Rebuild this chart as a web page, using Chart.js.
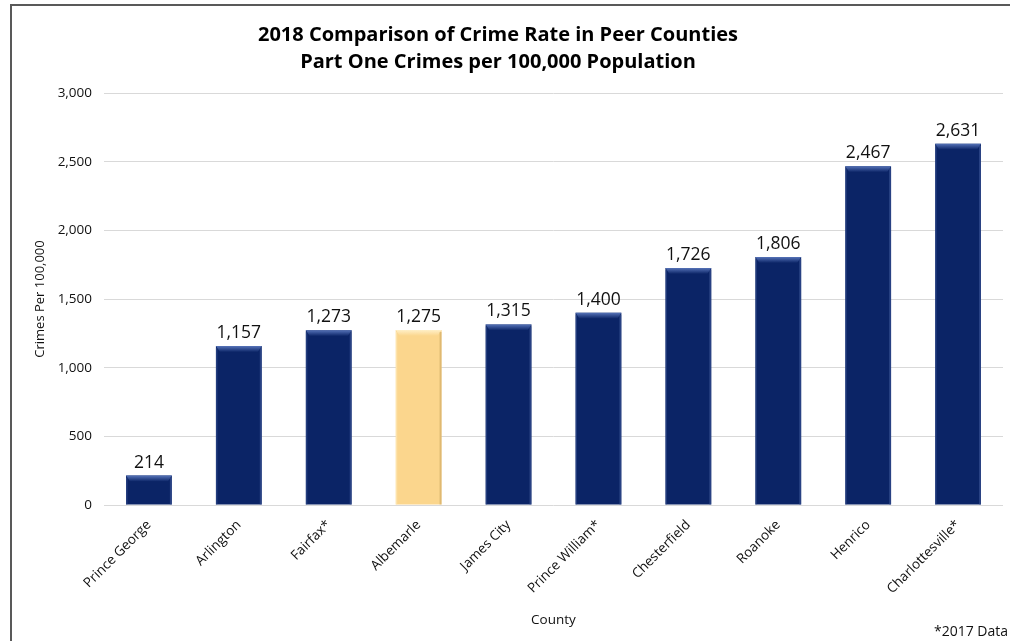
<!DOCTYPE html>
<html>
<head>
<meta charset="utf-8">
<script src="https://cdn.jsdelivr.net/npm/chart.js@4.4.1/dist/chart.umd.min.js"></script>
<style>
  html, body { margin: 0; padding: 0; background: #fff; }
  #wrap { position: relative; width: 1010px; height: 641px; }
</style>
</head>
<body>
<div id="wrap"><canvas id="myChart" width="1010" height="641"></canvas></div>
<script>
const counties = ["Prince George", "Arlington", "Fairfax*", "Albemarle", "James City",
  "Prince William*", "Chesterfield", "Roanoke", "Henrico", "Charlottesville*"];
const crimeRates = [214, 1157, 1273, 1275, 1315, 1400, 1726, 1806, 2467, 2631];
const highlighted = "Albemarle";
const titleLines = ["2018 Comparison of Crime Rate in Peer Counties", "Part One Crimes per 100,000 Population"];
const footnote = "*2017 Data";

const navy = "#0b2466";
const gold = "#fbd68d";

const fmt = (v) => v.toLocaleString("en-US");

// frame, title, value labels, bevel, footnote
const extras = {
  id: "extras",
  beforeDraw(chart) {
    const ctx = chart.ctx;
    ctx.save();
    ctx.strokeStyle = "#595959";
    ctx.lineWidth = 2;
    ctx.beginPath();
    ctx.moveTo(11, 641);
    ctx.lineTo(11, 5);
    ctx.lineTo(1010, 5);
    ctx.stroke();
    ctx.restore();
  },
  afterDatasetsDraw(chart) {
    const ctx = chart.ctx;
    const meta = chart.getDatasetMeta(0);
    ctx.save();
    meta.data.forEach((bar, i) => {
      const p = bar.getProps(["x", "y", "base", "width"], true);
      const l = p.x - p.width / 2, r = p.x + p.width / 2, t = p.y;
      const isHi = counties[i] === highlighted;
      // top bevel
      const g = ctx.createLinearGradient(0, t, 0, t + 6);
      g.addColorStop(0, isHi ? "#fff0c8" : "#5673b8");
      g.addColorStop(1, isHi ? gold : navy);
      ctx.fillStyle = g;
      ctx.beginPath();
      ctx.moveTo(l, t);
      ctx.lineTo(r, t);
      ctx.lineTo(r - 4, t + 6);
      ctx.lineTo(l + 4, t + 6);
      ctx.closePath();
      ctx.fill();
      // side edges
      ctx.fillStyle = isHi ? "rgba(190,150,80,0.45)" : "rgba(60,85,150,0.6)";
      ctx.fillRect(r - 2, t + 2, 2, p.base - t - 2);
      ctx.fillStyle = isHi ? "rgba(255,240,200,0.5)" : "rgba(60,85,150,0.5)";
      ctx.fillRect(l, t + 2, 1.5, p.base - t - 2);

      // value label
      ctx.fillStyle = "#111";
      ctx.font = "17.5px 'Open Sans'";
      ctx.textAlign = "center";
      ctx.textBaseline = "alphabetic";
      ctx.fillText(fmt(crimeRates[i]), p.x, t - 8);
    });

    ctx.fillStyle = "#000";
    ctx.font = "bold 20px 'Open Sans'";
    ctx.textAlign = "center";
    ctx.textBaseline = "middle";
    ctx.fillText(titleLines[0], 498, 35);
    ctx.fillText(titleLines[1], 498, 62);

    ctx.font = "14px 'Open Sans'";
    ctx.textAlign = "right";
    ctx.fillStyle = "#111";
    ctx.fillText(footnote, 1008, 632);
    ctx.restore();
  }
};

new Chart("myChart", {
  type: "bar",
  data: {
    labels: counties,
    datasets: [{
      data: crimeRates,
      backgroundColor: counties.map((c) => (c === highlighted ? gold : navy)),
      borderWidth: 0,
      categoryPercentage: 1,
      barPercentage: 0.51,
    }],
  },
  options: {
    responsive: false,
    animation: false,
    layout: { padding: { left: 0, top: 93, right: 7, bottom: 0 } },
    plugins: {
      legend: { display: false },
      tooltip: { enabled: false },
    },
    scales: {
      x: {
        grid: { display: false },
        border: { display: false },
        ticks: {
          color: "#111",
          font: { family: "Open Sans", size: 13.5 },
          minRotation: 45,
          maxRotation: 45,
          padding: 4,
        },
        title: {
          display: true,
          text: "County",
          color: "#111",
          font: { family: "Open Sans", size: 13.5 },
          padding: { top: 0, bottom: 13 },
        },
        afterFit(scale) { scale.height = 136; },
      },
      y: {
        min: 0,
        max: 3000,
        ticks: {
          stepSize: 500,
          color: "#111",
          font: { family: "Open Sans", size: 13.5 },
          padding: 12,
          callback: (v) => fmt(v),
        },
        grid: { color: "#d9d9d9", drawTicks: false, lineWidth: 1 },
        border: { display: false },
        title: {
          display: true,
          text: "Crimes Per 100,000",
          color: "#111",
          font: { family: "Open Sans", size: 13 },
          padding: { top: 32, bottom: 0 },
        },
        afterFit(scale) { scale.width = 104; },
      },
    },
  },
  plugins: [extras],
});
</script>
</body>
</html>
